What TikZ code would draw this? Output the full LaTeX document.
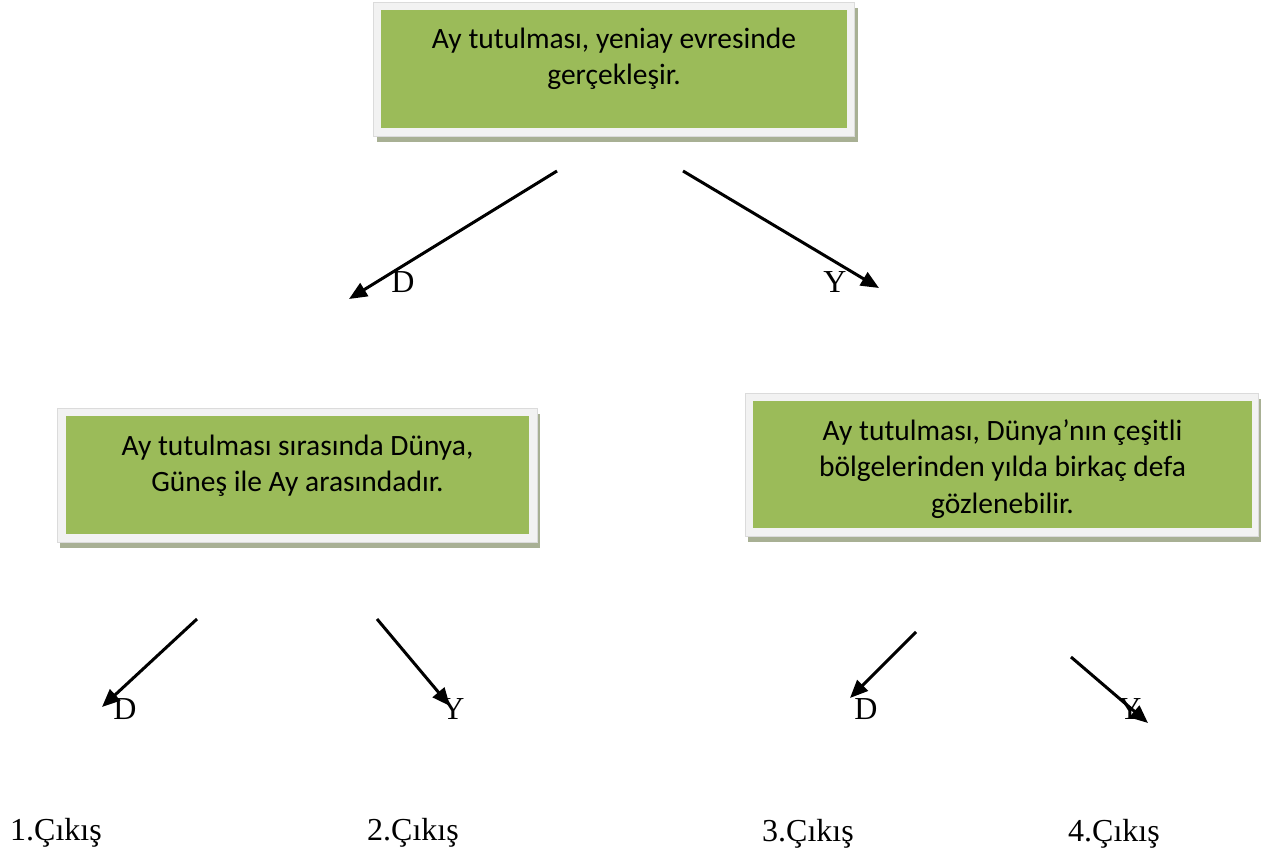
\documentclass[tikz,border=0pt]{standalone}
\usepackage{fontspec}
\setmainfont{Liberation Serif}
\newfontfamily\boxfont{Carlito}
\usetikzlibrary{arrows.meta}
\definecolor{boxgreen}{HTML}{9BBB59}
\definecolor{boxframe}{HTML}{F2F2F2}
\definecolor{boxshade}{HTML}{A8B094}
\tikzset{
  shadebox/.style={draw=none, fill=boxshade, inner sep=0pt},
  framebox/.style={draw=boxframe!80!gray, line width=0.6pt, fill=boxframe, inner sep=0pt},
  greenbox/.style={draw=none, fill=boxgreen, inner sep=0pt},
  boxtext/.style={inner sep=0pt, align=center, font=\boxfont\fontsize{29.5}{35.5}\selectfont},
  boxtextw/.style={inner sep=0pt, align=center, font=\boxfont\fontsize{29.5}{36.5}\selectfont},
  choice/.style={inner sep=0pt, font=\fontsize{32}{38}\selectfont},
  exitlabel/.style={inner sep=0pt, anchor=base west, font=\fontsize{32}{38}\selectfont},
  arrowline/.style={line width=3pt, -{Triangle[length=18pt,width=15pt]}}
}
\begin{document}
\begin{tikzpicture}[x=1pt,y=-1pt]
\useasboundingbox (0,0) rectangle (1264,854);
% top box
\node[shadebox, minimum width=481pt, minimum height=134pt] (topS) at (617,75) {};
\node[framebox, minimum width=481pt, minimum height=134pt] (top) at (613.5,69) {};
\node[greenbox, minimum width=466pt, minimum height=118pt] (topG) at (614,69) {};
\node[boxtext] (topT) at (614,59.5) {\strut Ay tutulması, yeniay evresinde\\\strut gerçekleşir.};
% left box
\node[shadebox, minimum width=480pt, minimum height=134pt] (leftS) at (300,481) {};
\node[framebox, minimum width=480pt, minimum height=134pt] (left) at (297,475) {};
\node[greenbox, minimum width=463pt, minimum height=118pt] (leftG) at (297.5,475) {};
\node[boxtext] (leftT) at (297.5,466.5) {\strut Ay tutulması sırasında Dünya,\\\strut Güneş ile Ay arasındadır.};
% right box
\node[shadebox, minimum width=513pt, minimum height=143pt] (rightS) at (1004.5,470.5) {};
\node[framebox, minimum width=513pt, minimum height=143pt] (right) at (1001.5,464.5) {};
\node[greenbox, minimum width=499pt, minimum height=127pt] (rightG) at (1002.5,464.5) {};
\node[boxtextw] (rightT) at (1002.5,469.5) {\strut Ay tutulması, Dünya’nın çeşitli\\\strut bölgelerinden yılda birkaç defa\\\strut gözlenebilir.};
% arrow end points
\coordinate (s1) at (557,171); \coordinate (e1) at (349,299);
\coordinate (s2) at (683,171); \coordinate (e2) at (879,288);
\coordinate (s3) at (197,619); \coordinate (e3) at (102,707);
\coordinate (s4) at (377,619); \coordinate (e4) at (450,706);
\coordinate (s5) at (916,632); \coordinate (e5) at (850,698);
\coordinate (s6) at (1071,657); \coordinate (e6) at (1148,723);
% labels
\node[choice] (d1) at (403,282) {D};
\node[choice] (y1) at (835,282) {Y};
\node[choice] (d2) at (125,709) {D};
\node[choice] (y2) at (453,709) {Y};
\node[choice] (d3) at (866,709) {D};
\node[choice] (y3) at (1130,709) {Y};
% arrows
\draw[arrowline] (s1) -- (e1);
\draw[arrowline] (s2) -- (e2);
\draw[arrowline] (s3) -- (e3);
\draw[arrowline] (s4) -- (e4);
\draw[arrowline] (s5) -- (e5);
\draw[arrowline] (s6) -- (e6);
% exits
\node[exitlabel] (c1) at (10,840) {1.Çıkış};
\node[exitlabel] (c2) at (367,840) {2.Çıkış};
\node[exitlabel] (c3) at (762,841) {3.Çıkış};
\node[exitlabel] (c4) at (1068,841) {4.Çıkış};
\end{tikzpicture}
\end{document}
